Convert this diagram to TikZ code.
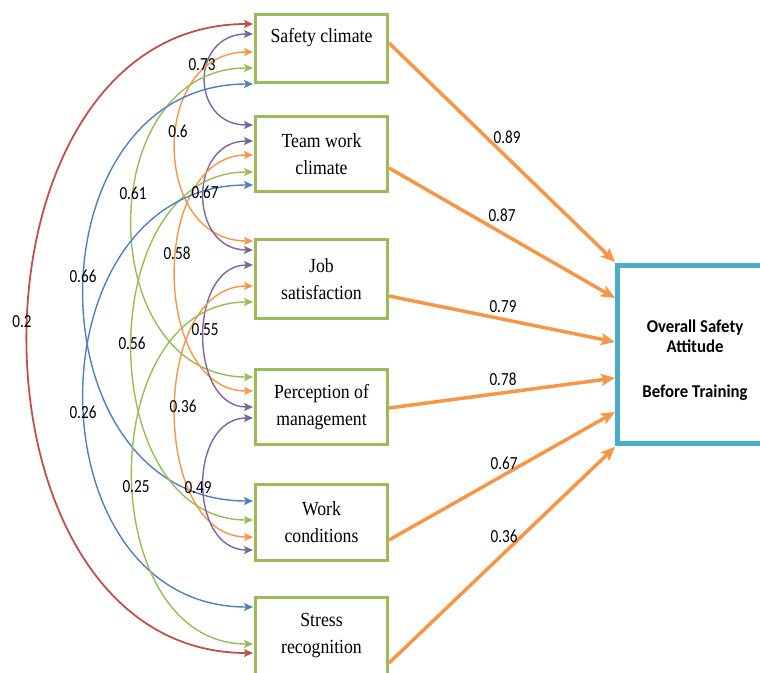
\documentclass[tikz,border=0pt]{standalone}
\usepackage{fontspec}
\setmainfont{Liberation Serif}[FakeStretch=0.885]
\newfontfamily\numfont{Carlito}[FakeStretch=0.82]
\newfontfamily\headfont{Carlito}[FakeStretch=0.93]
\usetikzlibrary{arrows.meta}
\definecolor{boxgreen}{HTML}{9BBB59}
\definecolor{cyanbox}{HTML}{4BACC6}
\definecolor{corange}{HTML}{F79646}
\definecolor{cred}{HTML}{C0504D}
\definecolor{cpurple}{HTML}{8064A2}
\definecolor{cgreen}{HTML}{9BBB59}
\definecolor{cblue}{HTML}{4F81BD}
\begin{document}
\begin{tikzpicture}[x=1pt,y=-1pt,
  factor/.style={draw=boxgreen, line width=3pt, minimum width=132pt, align=center,
    font=\fontsize{20}{27}\selectfont, inner sep=0pt},
  outbox/.style={draw=cyanbox, line width=5pt, minimum width=155pt, minimum height=178pt, inner sep=0pt},
  corr/.style={line width=1.4pt, {Stealth[length=9pt,width=8pt,inset=2pt]}-{Stealth[length=9pt,width=8pt,inset=2pt]}},
  effect/.style={draw=corange, line width=3.5pt, -{Stealth[length=14pt,width=12pt,inset=3pt]}},
  coef/.style={font=\numfont\fontsize{18.5}{20}\selectfont, inner sep=0pt},
  headtxt/.style={font=\headfont\bfseries\fontsize{18}{20}\selectfont, align=center, inner sep=0pt}
]
\useasboundingbox[fill=white] (0,0) rectangle (760,672);

% factor boxes
\node[factor, minimum height=68pt, text depth=27pt] (S) at (321.5,48.5) {Safety climate};
\node[factor, minimum height=75pt] (T) at (321.5,154) {Team work\\climate};
\node[factor, minimum height=79pt] (J) at (321.5,279) {Job\\satisfaction};
\node[factor, minimum height=75pt] (P) at (321.5,407) {Perception of\\management};
\node[factor, minimum height=76pt] (W) at (321.5,522.5) {Work\\conditions};
\node[factor, minimum height=77pt] (R) at (321.5,636) {Stress\\recognition};

% outcome box
\node[outbox] (O) at (695,354.5) {};
\node[headtxt] (Otxt) at (695,360) {Overall Safety\\Attitude\\[25pt]Before Training};

% correlations
\draw[corr, cred, line width=1.8pt] ([xshift=-1pt,yshift=-11pt]S.north west) to[out=180,in=180,distance=300pt] ([xshift=-1pt,yshift=-57pt]R.north west);
\draw[corr, cpurple] ([xshift=-1pt,yshift=-21pt]S.north west) to[out=180,in=180,distance=63pt] ([xshift=-1pt,yshift=-10pt]T.north west);
\draw[corr, corange] ([xshift=-1pt,yshift=-39pt]S.north west) to[out=180,in=180,distance=103pt] ([xshift=-1pt,yshift=-3pt]J.north west);
\draw[corr, cgreen] ([xshift=-1pt,yshift=-55pt]S.north west) to[out=180,in=180,distance=161pt] ([xshift=-1pt,yshift=-9pt]P.north west);
\draw[corr, cblue] ([xshift=-1pt,yshift=-71pt]S.north west) to[out=180,in=180,distance=225pt] ([xshift=-1pt,yshift=-18pt]W.north west);
\draw[corr, cpurple] ([xshift=-1pt,yshift=-26pt]T.north west) to[out=180,in=180,distance=65pt] ([xshift=-1pt,yshift=-12pt]J.north west);
\draw[corr, corange] ([xshift=-1pt,yshift=-40pt]T.north west) to[out=180,in=180,distance=103pt] ([xshift=-1pt,yshift=-23pt]P.north west);
\draw[corr, cgreen] ([xshift=-1pt,yshift=-57pt]T.north west) to[out=180,in=180,distance=161pt] ([xshift=-1pt,yshift=-37pt]W.north west);
\draw[corr, cblue] ([xshift=-1pt,yshift=-70pt]T.north west) to[out=180,in=180,distance=225pt] ([xshift=-1pt,yshift=-11pt]R.north west);
\draw[corr, cpurple] ([xshift=-1pt,yshift=-27pt]J.north west) to[out=180,in=180,distance=65pt] ([xshift=-1pt,yshift=-39pt]P.north west);
\draw[corr, corange] ([xshift=-1pt,yshift=-48pt]J.north west) to[out=180,in=180,distance=103pt] ([xshift=-1pt,yshift=-54pt]W.north west);
\draw[corr, cgreen] ([xshift=-1pt,yshift=-64pt]J.north west) to[out=180,in=180,distance=160pt] ([xshift=-1pt,yshift=-48pt]R.north west);
\draw[corr, cpurple] ([xshift=-1pt,yshift=-50pt]P.north west) to[out=180,in=180,distance=65pt] ([xshift=-1pt,yshift=-67pt]W.north west);

% correlation labels
\node[coef] (c1) at (202,65) {0.73};
\node[coef] (c2) at (178,131) {0.6};
\node[coef] (c3) at (133,193) {0.61};
\node[coef] (c4) at (205,192) {0.67};
\node[coef] (c5) at (83,276) {0.66};
\node[coef] (c6) at (177,253) {0.58};
\node[coef] (c7) at (22,322) {0.2};
\node[coef] (c8) at (205,330) {0.55};
\node[coef] (c9) at (132,343) {0.56};
\node[coef] (c10) at (83,412) {0.26};
\node[coef] (c11) at (183,406) {0.36};
\node[coef] (c12) at (136,487) {0.25};
\node[coef] (c13) at (198,488) {0.49};

% effects
\draw[effect] ([yshift=-30pt]S.north east) -- ([yshift=1pt]O.north west);
\draw[effect] ([yshift=-53pt]T.north east) -- ([yshift=-35pt]O.north west);
\draw[effect] ([yshift=-58pt]J.north east) -- ([yshift=-79pt]O.north west);
\draw[effect] ([yshift=-40pt]P.north east) -- ([yshift=-115pt]O.north west);
\draw[effect] ([yshift=-57pt]W.north east) -- ([yshift=-149pt]O.north west);
\draw[effect] ([yshift=-67pt]R.north east) -- ([yshift=-184pt]O.north west);

\node[coef] (e1) at (507,137) {0.89};
\node[coef] (e2) at (502,215) {0.87};
\node[coef] (e3) at (503,307) {0.79};
\node[coef] (e4) at (503,379) {0.78};
\node[coef] (e5) at (504,463) {0.67};
\node[coef] (e6) at (504,536) {0.36};
\end{tikzpicture}
\end{document}
